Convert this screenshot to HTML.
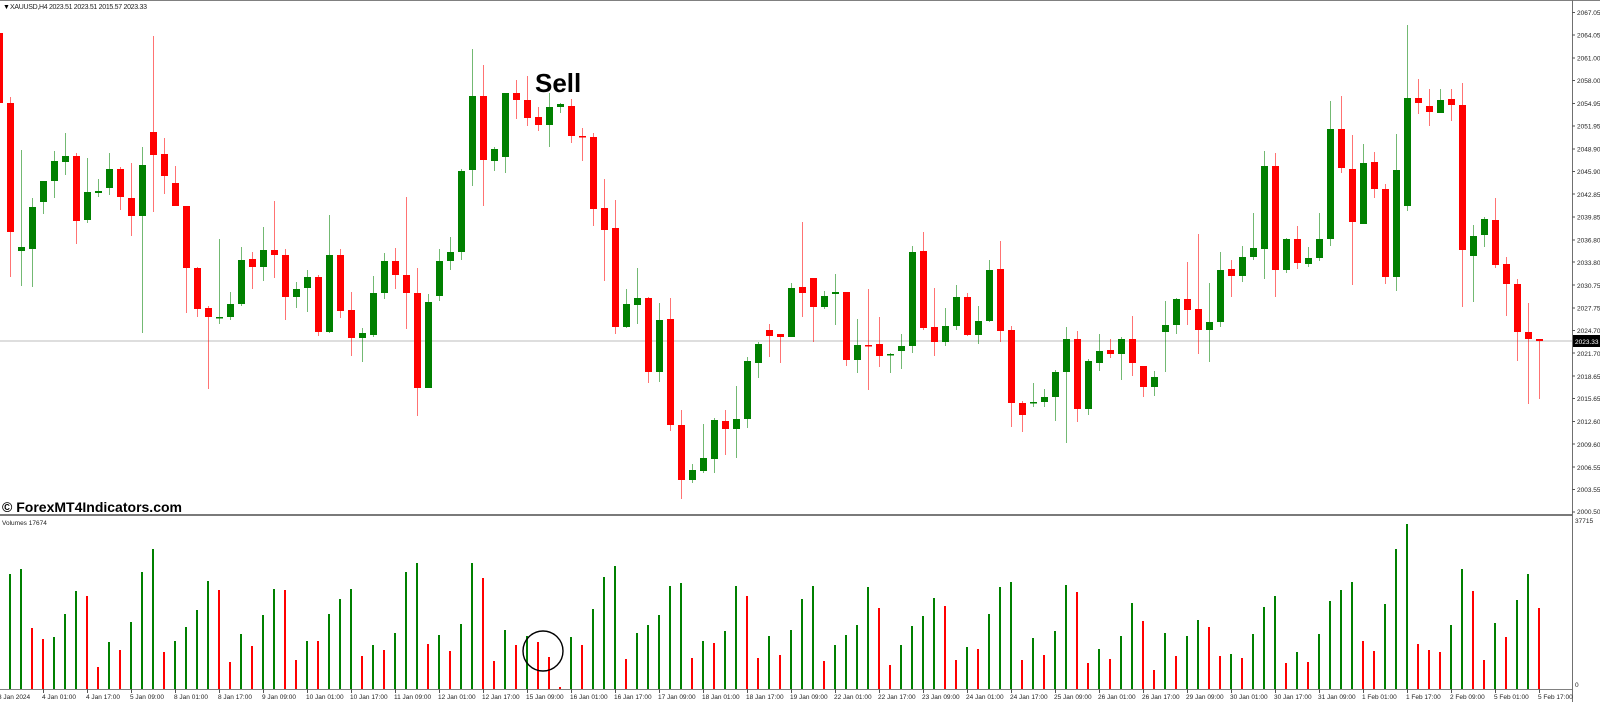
<!DOCTYPE html>
<html><head><meta charset="utf-8"><style>
html,body{margin:0;padding:0;background:#fff;}
svg{display:block;}
text{font-family:"Liberation Sans",sans-serif;}
</style></head><body>
<svg width="1600" height="702" viewBox="0 0 1600 702" xmlns="http://www.w3.org/2000/svg">
<rect width="1600" height="702" fill="#fff"/>
<line x1="0" y1="0.5" x2="1600" y2="0.5" stroke="#808080"/>
<text x="3" y="9" font-size="7" fill="#000">▼</text>
<text x="10" y="9" font-size="7" fill="#222" textLength="137">XAUUSD,H4  2023.51 2023.51 2015.57 2023.33</text>
<line x1="0" y1="341" x2="1572" y2="341" stroke="#d4d4d4" stroke-width="1.5"/>
<!-- green wicks -->
<path stroke="#008000" stroke-opacity="0.55" stroke-width="1" fill="none" d="M21.5 150V286 M32.5 198V287 M43.5 181V214 M54.5 151V198 M65.5 133V175 M87.5 158V223 M98.5 179V197 M109.5 153V195 M142.5 147V333 M219.5 239V324 M230.5 292V320 M241.5 247V306 M263.5 227V281 M296.5 282V308 M307.5 270V312 M329.5 215V333 M362.5 328V362 M373.5 276V337 M384.5 253V299 M428.5 294V388 M439.5 249V301 M450.5 237V270 M461.5 169V260 M472.5 49V186 M494.5 147V171 M505.5 93V173 M549.5 93V147 M560.5 103V113 M626.5 289V328 M637.5 268V324 M659.5 303V382 M692.5 464V483 M703.5 424V473 M714.5 418V473 M736.5 386V458 M747.5 357V428 M758.5 342V378 M791.5 283V337 M824.5 291V309 M835.5 274V325 M857.5 319V373 M890.5 353V373 M901.5 334V369 M912.5 246V353 M945.5 308V346 M956.5 285V330 M978.5 306V344 M989.5 260V322 M1033.5 383V407 M1044.5 389V407 M1055.5 370V421 M1066.5 327V443 M1088.5 359V415 M1099.5 334V371 M1121.5 337V380 M1154.5 371V396 M1165.5 301V372 M1176.5 298V334 M1209.5 283V362 M1220.5 252V327 M1242.5 246V282 M1253.5 213V260 M1264.5 151V279 M1286.5 238V273 M1308.5 247V267 M1319.5 213V261 M1330.5 101V246 M1363.5 144V224 M1396.5 134V291 M1407.5 25V211 M1440.5 89V113 M1473.5 225V302 M1484.5 217V247"/>
<!-- red wicks -->
<path stroke="#ff0000" stroke-opacity="0.55" stroke-width="1" fill="none" d="M-0.5 30V103 M10.5 97V277 M76.5 153V244 M120.5 167V210 M131.5 163V236 M153.5 36V212 M164.5 138V194 M175.5 166V206 M186.5 206V313 M197.5 267V317 M208.5 306V389 M252.5 252V289 M274.5 201V278 M285.5 249V320 M318.5 275V336 M340.5 249V318 M351.5 292V356 M395.5 248V289 M406.5 197V329 M417.5 268V416 M483.5 65V206 M516.5 80V119 M527.5 76V126 M538.5 107V131 M571.5 99V143 M582.5 128V161 M593.5 133V226 M604.5 179V281 M615.5 200V334 M648.5 297V383 M670.5 298V431 M681.5 410V499 M725.5 410V455 M769.5 324V357 M780.5 334V363 M802.5 222V317 M813.5 278V342 M846.5 292V366 M868.5 289V390 M879.5 317V367 M923.5 232V330 M934.5 288V356 M967.5 293V336 M1000.5 241V342 M1011.5 326V427 M1022.5 401V432 M1077.5 331V422 M1110.5 339V358 M1132.5 316V376 M1143.5 366V397 M1187.5 262V325 M1198.5 234V354 M1231.5 260V297 M1275.5 153V297 M1297.5 226V269 M1341.5 96V173 M1352.5 135V285 M1374.5 152V198 M1385.5 184V284 M1418.5 79V114 M1429.5 89V126 M1451.5 89V121 M1462.5 83V307 M1495.5 198V268 M1506.5 257V316 M1517.5 279V361 M1528.5 303V404 M1539.5 339V399"/>
<!-- green bodies -->
<path fill="#008000" d="M18 247H25V251H18Z M29 207H36V249H29Z M40 181H47V202H40Z M51 161H58V181H51Z M62 156H69V162H62Z M84 192H91V220H84Z M95 191H102V193H95Z M106 169H113V188H106Z M139 165H146V216H139Z M216 317H223V318.5H216Z M227 304H234V317H227Z M238 260H245V304H238Z M260 250H267V267H260Z M293 289H300V297H293Z M304 277H311V288H304Z M326 255H333V332H326Z M359 333H366V338H359Z M370 293H377V335H370Z M381 261H388V293H381Z M425 302H432V388H425Z M436 261H443V296H436Z M447 252H454V261H447Z M458 171H465V252H458Z M469 96H476V170H469Z M491 149H498V161H491Z M502 93H509V157H502Z M546 107H553V125H546Z M557 104H564V107H557Z M623 304H630V327H623Z M634 298H641V305H634Z M656 320H663V372H656Z M689 470H696V480H689Z M700 458H707V471H700Z M711 420H718V459H711Z M733 419H740V429H733Z M744 361H751V419H744Z M755 344H762V363H755Z M788 288H795V337H788Z M821 296H828V307H821Z M832 292H839V294H832Z M854 345H861V360H854Z M887 354H894V355.5H887Z M898 346H905V351H898Z M909 252H916V346H909Z M942 326H949V342H942Z M953 297H960V326H953Z M975 321H982V335H975Z M986 270H993V321H986Z M1030 402H1037V403.5H1030Z M1041 397H1048V402H1041Z M1052 372H1059V397H1052Z M1063 339H1070V372H1063Z M1085 361H1092V409H1085Z M1096 351H1103V363H1096Z M1118 339H1125V354H1118Z M1151 377H1158V387H1151Z M1162 325H1169V332H1162Z M1173 299H1180V325H1173Z M1206 322H1213V330H1206Z M1217 270H1224V322H1217Z M1239 257H1246V276H1239Z M1250 248H1257V257H1250Z M1261 166H1268V249H1261Z M1283 239H1290V270H1283Z M1305 258H1312V264H1305Z M1316 239H1323V258H1316Z M1327 129H1334V239H1327Z M1360 163H1367V224H1360Z M1393 170H1400V277H1393Z M1404 98H1411V206H1404Z M1437 100H1444V113H1437Z M1470 236H1477V256H1470Z M1481 219H1488V235H1481Z"/>
<!-- red bodies -->
<path fill="#ff0000" d="M-4 33H3V103H-4Z M7 103H14V232H7Z M73 156H80V221H73Z M117 169H124V197H117Z M128 198H135V216H128Z M150 132H157V155H150Z M161 154H168V176H161Z M172 183H179V206H172Z M183 206H190V268H183Z M194 268H201V309H194Z M205 308H212V317H205Z M249 259H256V267H249Z M271 250H278V255H271Z M282 255H289V297H282Z M315 277H322V332H315Z M337 255H344V311H337Z M348 310H355V338H348Z M392 261H399V275H392Z M403 275H410V293H403Z M414 293H421V388H414Z M480 96H487V160H480Z M513 93H520V100H513Z M524 100H531V118H524Z M535 117H542V125H535Z M568 106H575V136H568Z M579 136H586V137.5H579Z M590 137H597V209H590Z M601 208H608V230H601Z M612 228H619V327H612Z M645 298H652V372H645Z M667 319H674V425H667Z M678 425H685V480H678Z M722 421H729V429H722Z M766 330H773V336H766Z M777 334H784V337H777Z M799 287H806V293H799Z M810 278H817V307H810Z M843 292H850V360H843Z M865 345H872V346.5H865Z M876 344H883V356H876Z M920 251H927V328H920Z M931 327H938V342H931Z M964 297H971V335H964Z M997 269H1004V331H997Z M1008 330H1015V403H1008Z M1019 403H1026V415H1019Z M1074 339H1081V409H1074Z M1107 350H1114V354H1107Z M1129 339H1136V363H1129Z M1140 366H1147V387H1140Z M1184 299H1191V310H1184Z M1195 309H1202V330H1195Z M1228 269H1235V276H1228Z M1272 166H1279V270H1272Z M1294 239H1301V263H1294Z M1338 129H1345V168H1338Z M1349 169H1356V222H1349Z M1371 162H1378V189H1371Z M1382 189H1389V277H1382Z M1415 98H1422V103H1415Z M1426 106H1433V112H1426Z M1448 99H1455V105H1448Z M1459 105H1466V250H1459Z M1492 220H1499V265H1492Z M1503 264H1510V284H1503Z M1514 284H1521V332H1514Z M1525 332H1532V339H1525Z M1536 339H1543V341H1536Z"/>
<text x="535" y="92" font-size="26" font-weight="bold" fill="#000">Sell</text>
<text x="2" y="512" font-size="14" font-weight="bold" fill="#000" textLength="180">© ForexMT4Indicators.com</text>
<!-- divider -->
<line x1="0" y1="515" x2="1573" y2="515" stroke="#7a7a7a" stroke-width="2"/>
<text x="2" y="525" font-size="6.5" fill="#222">Volumes 17674</text>
<!-- volume bars -->
<path stroke="#008000" stroke-width="2" fill="none" d="M10 689V574 M21 689V569 M54 689V637 M65 689V614 M76 689V591 M109 689V642 M131 689V622 M142 689V572 M153 689V549 M175 689V641 M186 689V627 M197 689V610 M208 689V581 M241 689V634 M263 689V615 M274 689V589 M307 689V641 M329 689V614 M340 689V599 M351 689V589 M373 689V645 M395 689V633 M406 689V572 M417 689V563 M439 689V635 M461 689V624 M472 689V563 M505 689V630 M527 689V636 M571 689V637 M593 689V609 M604 689V577 M615 689V566 M637 689V633 M648 689V625 M659 689V615 M670 689V586 M681 689V583 M703 689V641 M725 689V631 M736 689V586 M769 689V636 M791 689V630 M802 689V599 M813 689V586 M835 689V645 M846 689V635 M857 689V625 M868 689V587 M901 689V645 M912 689V626 M923 689V616 M934 689V598 M967 689V647 M989 689V614 M1000 689V587 M1011 689V582 M1033 689V638 M1055 689V631 M1066 689V585 M1099 689V649 M1121 689V636 M1132 689V603 M1165 689V633 M1187 689V636 M1198 689V620 M1231 689V654 M1253 689V634 M1264 689V607 M1275 689V596 M1297 689V652 M1319 689V634 M1330 689V601 M1341 689V590 M1352 689V582 M1385 689V604 M1396 689V549 M1407 689V524 M1451 689V625 M1462 689V569 M1495 689V623 M1517 689V600 M1528 689V574"/>
<path stroke="#ff0000" stroke-width="2" fill="none" d="M32 689V628 M43 689V639 M87 689V596 M98 689V667 M120 689V650 M164 689V652 M219 689V590 M230 689V662 M252 689V646 M285 689V590 M296 689V660 M318 689V641 M362 689V656 M384 689V650 M428 689V644 M450 689V651 M483 689V578 M494 689V661 M516 689V645 M538 689V642 M549 689V657 M560 689V687 M582 689V645 M626 689V659 M692 689V658 M714 689V643 M747 689V596 M758 689V658 M780 689V655 M824 689V661 M879 689V608 M890 689V665 M945 689V606 M956 689V660 M978 689V649 M1022 689V660 M1044 689V655 M1077 689V592 M1088 689V663 M1110 689V659 M1143 689V621 M1154 689V670 M1176 689V656 M1209 689V627 M1220 689V656 M1242 689V658 M1286 689V663 M1308 689V662 M1363 689V641 M1374 689V651 M1418 689V644 M1429 689V650 M1440 689V652 M1473 689V591 M1484 689V660 M1506 689V637 M1539 689V608"/>
<circle cx="543" cy="651" r="20" fill="none" stroke="#000" stroke-width="1.4"/>
<line x1="0" y1="689.5" x2="1573" y2="689.5" stroke="#808080" stroke-width="1"/>
<!-- right axis -->
<line x1="1572.5" y1="0" x2="1572.5" y2="702" stroke="#707070" stroke-width="1"/>
<g font-size="6.5" fill="#222">
<text x="1577" y="15">2067.05</text>
<text x="1577" y="37.5">2064.05</text>
<text x="1577" y="60.5">2061.00</text>
<text x="1577" y="83">2058.00</text>
<text x="1577" y="106">2054.95</text>
<text x="1577" y="128.5">2051.95</text>
<text x="1577" y="151.5">2048.90</text>
<text x="1577" y="174">2045.90</text>
<text x="1577" y="197">2042.85</text>
<text x="1577" y="219.5">2039.85</text>
<text x="1577" y="242.5">2036.80</text>
<text x="1577" y="265">2033.80</text>
<text x="1577" y="288">2030.75</text>
<text x="1577" y="310.5">2027.75</text>
<text x="1577" y="333">2024.70</text>
<text x="1577" y="356">2021.70</text>
<text x="1577" y="379">2018.65</text>
<text x="1577" y="401">2015.65</text>
<text x="1577" y="424">2012.60</text>
<text x="1577" y="447">2009.60</text>
<text x="1577" y="470">2006.55</text>
<text x="1577" y="492">2003.55</text>
<text x="1577" y="514">2000.50</text>
<text x="1575" y="523">37715</text>
<text x="1575" y="687">0</text>
</g>
<path stroke="#555" stroke-width="1" d="M1572 12.5h3 M1572 35h3 M1572 58h3 M1572 80.5h3 M1572 103.5h3 M1572 126h3 M1572 149h3 M1572 171.5h3 M1572 194h3 M1572 217h3 M1572 240h3 M1572 262h3 M1572 285h3 M1572 308h3 M1572 330.5h3 M1572 353h3 M1572 376h3 M1572 398.5h3 M1572 421.5h3 M1572 444h3 M1572 467h3 M1572 489.5h3 M1572 512h3"/>
<rect x="1573" y="335" width="27" height="12" fill="#000"/>
<text x="1575" y="344" font-size="6.5" fill="#fff">2023.33</text>
<!-- date ticks and labels -->
<path stroke="#555" stroke-width="1" d="M43.5 689v4 M87.5 689v4 M131.5 689v4 M175.5 689v4 M219.5 689v4 M263.5 689v4 M307.5 689v4 M351.5 689v4 M395.5 689v4 M439.5 689v4 M483.5 689v4 M527.5 689v4 M571.5 689v4 M615.5 689v4 M659.5 689v4 M703.5 689v4 M747.5 689v4 M791.5 689v4 M835.5 689v4 M879.5 689v4 M923.5 689v4 M967.5 689v4 M1011.5 689v4 M1055.5 689v4 M1099.5 689v4 M1143.5 689v4 M1187.5 689v4 M1231.5 689v4 M1275.5 689v4 M1319.5 689v4 M1363.5 689v4 M1407.5 689v4 M1451.5 689v4 M1495.5 689v4 M1539.5 689v4"/>
<g font-size="6.5" fill="#222">
<text x="-2" y="699">3 Jan 2024</text>
<text x="42" y="699">4 Jan 01:00</text>
<text x="86" y="699">4 Jan 17:00</text>
<text x="130" y="699">5 Jan 09:00</text>
<text x="174" y="699">8 Jan 01:00</text>
<text x="218" y="699">8 Jan 17:00</text>
<text x="262" y="699">9 Jan 09:00</text>
<text x="306" y="699">10 Jan 01:00</text>
<text x="350" y="699">10 Jan 17:00</text>
<text x="394" y="699">11 Jan 09:00</text>
<text x="438" y="699">12 Jan 01:00</text>
<text x="482" y="699">12 Jan 17:00</text>
<text x="526" y="699">15 Jan 09:00</text>
<text x="570" y="699">16 Jan 01:00</text>
<text x="614" y="699">16 Jan 17:00</text>
<text x="658" y="699">17 Jan 09:00</text>
<text x="702" y="699">18 Jan 01:00</text>
<text x="746" y="699">18 Jan 17:00</text>
<text x="790" y="699">19 Jan 09:00</text>
<text x="834" y="699">22 Jan 01:00</text>
<text x="878" y="699">22 Jan 17:00</text>
<text x="922" y="699">23 Jan 09:00</text>
<text x="966" y="699">24 Jan 01:00</text>
<text x="1010" y="699">24 Jan 17:00</text>
<text x="1054" y="699">25 Jan 09:00</text>
<text x="1098" y="699">26 Jan 01:00</text>
<text x="1142" y="699">26 Jan 17:00</text>
<text x="1186" y="699">29 Jan 09:00</text>
<text x="1230" y="699">30 Jan 01:00</text>
<text x="1274" y="699">30 Jan 17:00</text>
<text x="1318" y="699">31 Jan 09:00</text>
<text x="1362" y="699">1 Feb 01:00</text>
<text x="1406" y="699">1 Feb 17:00</text>
<text x="1450" y="699">2 Feb 09:00</text>
<text x="1494" y="699">5 Feb 01:00</text>
<text x="1538" y="699">5 Feb 17:00</text>
</g>
</svg>
</body></html>
